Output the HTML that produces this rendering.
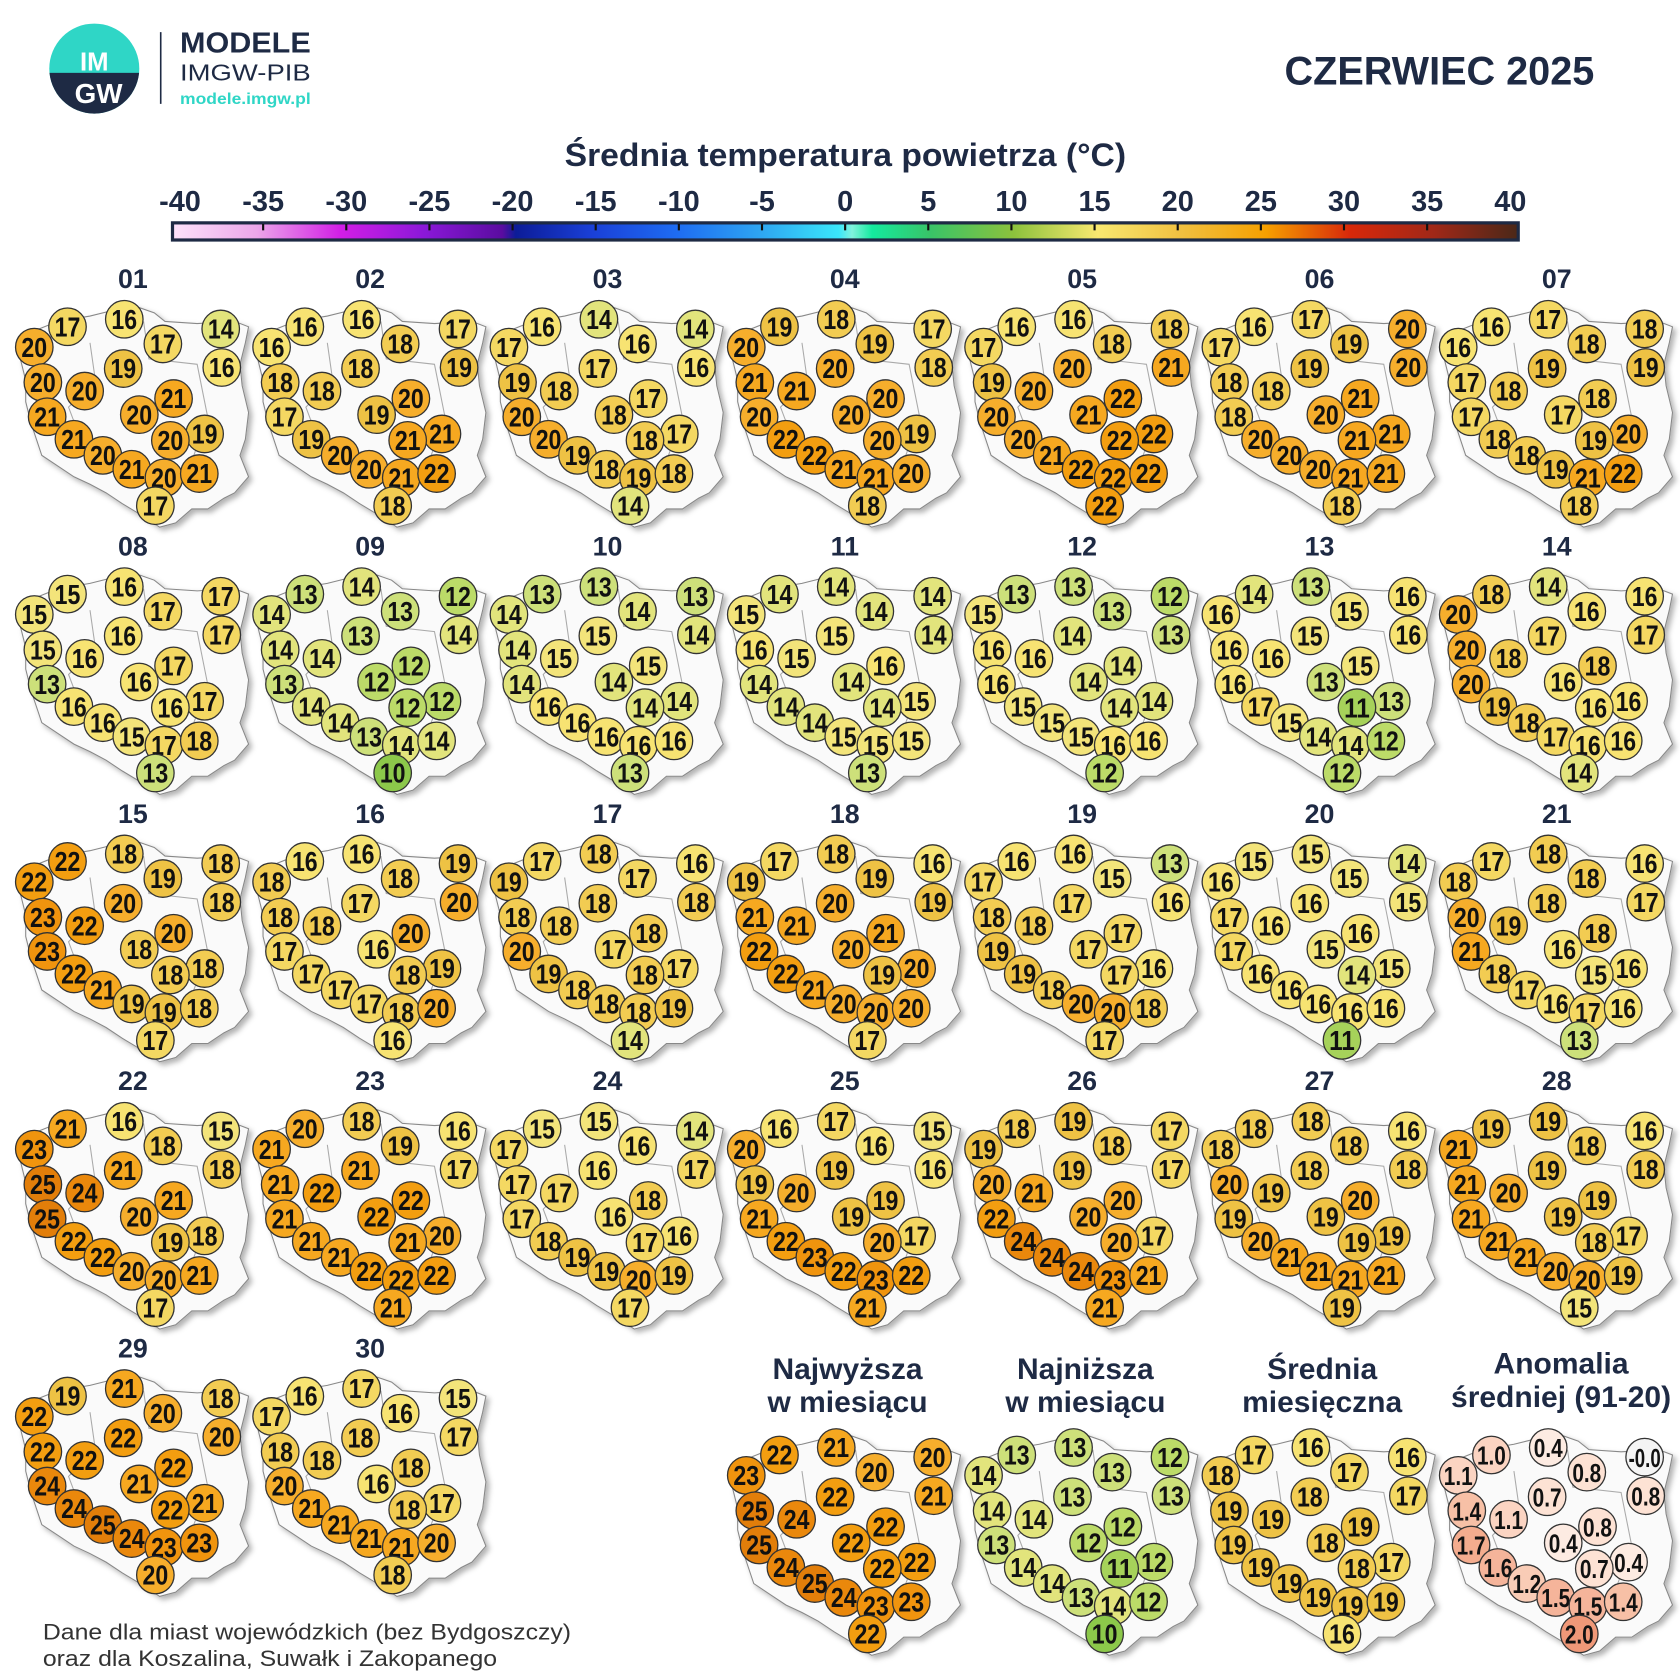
<!DOCTYPE html>
<html><head><meta charset="utf-8"><style>
html,body{margin:0;padding:0;background:#fff;}
svg{display:block;}
text{font-family:"Liberation Sans",sans-serif;}
.n{font-family:"Liberation Sans Narrow","Liberation Sans",sans-serif;font-weight:bold;font-size:26px;fill:#111;text-anchor:middle;}
.pt{font-weight:bold;font-size:25px;fill:#1e2a44;text-anchor:middle;}
.st{font-weight:bold;font-size:28px;fill:#1e2a44;text-anchor:middle;}
</style></head><body>
<svg id="s" width="1680" height="1680" viewBox="0 0 1568 1568" xmlns="http://www.w3.org/2000/svg">
<defs>
<linearGradient id="cb" x1="0" x2="1" y1="0" y2="0">
<stop offset="0" stop-color="#fde2fa"/><stop offset="0.0625" stop-color="#eca6ea"/>
<stop offset="0.125" stop-color="#d21ee6"/><stop offset="0.1875" stop-color="#8a18d8"/>
<stop offset="0.245" stop-color="#5a0ca0"/><stop offset="0.255" stop-color="#0c1c98"/>
<stop offset="0.3125" stop-color="#1a40d8"/><stop offset="0.375" stop-color="#1e6cf2"/>
<stop offset="0.4375" stop-color="#2ea6f2"/><stop offset="0.495" stop-color="#3ae6fa"/>
<stop offset="0.505" stop-color="#80f2dc"/><stop offset="0.52" stop-color="#14ea9e"/>
<stop offset="0.5625" stop-color="#38c468"/><stop offset="0.625" stop-color="#8cc23c"/>
<stop offset="0.6875" stop-color="#f8e870"/><stop offset="0.75" stop-color="#f0c040"/>
<stop offset="0.8125" stop-color="#f6a000"/><stop offset="0.875" stop-color="#d8280a"/>
<stop offset="0.9375" stop-color="#a02818"/><stop offset="1" stop-color="#4a2818"/>
</linearGradient>
<filter id="sh" x="-10%" y="-10%" width="130%" height="130%"><feDropShadow dx="3" dy="3" stdDeviation="2.5" flood-color="#000" flood-opacity="0.3"/></filter>
<clipPath id="lc"><circle cx="88" cy="64" r="42"/></clipPath>
</defs>
<g clip-path="url(#lc)">
<rect x="40" y="20" width="100" height="90" fill="#2fd6c6"/>
<rect x="40" y="68" width="100" height="45" fill="#1e2a44"/>
</g>
<text x="88" y="66" font-size="24" font-weight="bold" fill="#fff" text-anchor="middle">IM</text>
<text x="92" y="96" font-size="26" font-weight="bold" fill="#fff" text-anchor="middle">GW</text>
<line x1="150" y1="30" x2="150" y2="97" stroke="#1e2a44" stroke-width="1.5"/>
<text x="168" y="49" font-size="27" font-weight="bold" fill="#1e2a44" textLength="122" lengthAdjust="spacingAndGlyphs">MODELE</text>
<text x="168" y="75" font-size="22" fill="#1e2a44" textLength="122" lengthAdjust="spacingAndGlyphs">IMGW-PIB</text>
<text x="168" y="97" font-size="15" font-weight="bold" fill="#2fd6c6" textLength="122" lengthAdjust="spacingAndGlyphs">modele.imgw.pl</text>
<text x="1488" y="79" font-size="37" font-weight="bold" fill="#1e2a44" text-anchor="end">CZERWIEC 2025</text>
<text x="527" y="155" font-size="30" font-weight="bold" fill="#1e2a44" textLength="524" lengthAdjust="spacingAndGlyphs">Średnia temperatura powietrza (°C)</text>
<g id="cbl" font-size="27" font-weight="bold" fill="#1e2a44" text-anchor="middle"></g>
<rect x="161" y="208" width="1256" height="16" fill="url(#cb)" stroke="#1e2a44" stroke-width="3"/>
<g id="maps"></g>
<text x="40" y="1530" font-size="21" fill="#333" textLength="493" lengthAdjust="spacingAndGlyphs">Dane dla miast wojewódzkich (bez Bydgoszczy)</text>
<text x="40" y="1555" font-size="21" fill="#333" textLength="424" lengthAdjust="spacingAndGlyphs">oraz dla Koszalina, Suwałk i Zakopanego</text>
<text class="st" x="791" y="1287">Najwyższa</text><text class="st" x="791" y="1318">w miesiącu</text>
<text class="st" x="1013" y="1287">Najniższa</text><text class="st" x="1013" y="1318">w miesiącu</text>
<text class="st" x="1234" y="1287">Średnia</text><text class="st" x="1234" y="1318">miesięczna</text>
<text class="st" x="1457" y="1282">Anomalia</text><text class="st" x="1457" y="1313">średniej (91-20)</text>
</svg>
<script>
var NS="http://www.w3.org/2000/svg";
function el(t,a,p,txt){var e=document.createElementNS(NS,t);for(var k in a)e.setAttribute(k,a[k]);if(txt!==undefined)e.textContent=txt;p.appendChild(e);return e;}
var cbl=document.getElementById('cbl'),svg=document.getElementById('s');
for(var i=0;i<=16;i++){var v=-40+5*i,x=168+i*77.6;el('text',{x:x,y:197},cbl,String(v));
 if(i>0&&i<16)el('line',{x1:x,y1:209,x2:x,y2:215,stroke:'#111','stroke-width':2},svg);}
var P=[[-61,45],[-8,38],[82,47],[-92,64],[28,61],[-9,84],[83,83],[-84,97],[-45,105],[38,112],[-80,129],[6,127],[67,145],[-55,150],[35,151],[-28,165],[-1,178],[29,186],[62,182],[21,212]];
var D=[
"17 16 14 20 17 19 16 20 20 21 21 20 19 21 20 20 21 20 21 17",
"16 16 17 16 18 18 19 18 18 20 17 19 21 19 21 20 20 21 22 18",
"16 14 14 17 16 17 16 19 18 17 20 18 17 20 18 19 18 19 18 14",
"19 18 17 20 19 20 18 21 21 20 20 20 19 22 20 22 21 21 20 18",
"16 16 18 17 18 20 21 19 20 22 20 21 22 20 22 21 22 22 22 22",
"16 17 20 17 19 19 20 18 18 21 18 20 21 20 21 20 20 21 21 18",
"16 17 18 16 18 19 19 17 18 18 17 17 20 18 19 18 19 21 22 18",
"15 16 17 15 17 16 17 15 16 17 13 16 17 16 16 16 15 17 18 13",
"13 14 12 14 13 13 14 14 14 12 13 12 12 14 12 14 13 14 14 10",
"13 13 13 14 14 15 14 14 15 15 14 14 14 16 14 16 16 16 16 13",
"14 14 14 15 14 15 14 16 15 16 14 14 15 14 14 14 15 15 15 13",
"13 13 12 15 13 14 13 16 16 14 16 14 14 15 14 15 15 16 16 12",
"14 13 16 16 15 15 16 16 16 15 16 13 13 17 11 15 14 14 12 12",
"18 14 16 20 16 17 17 20 18 18 20 16 16 19 16 18 17 16 16 14",
"22 18 18 22 19 20 18 23 22 20 23 18 18 22 18 21 19 19 18 17",
"16 16 19 18 18 17 20 18 18 20 17 16 19 17 18 17 17 18 20 16",
"17 18 16 19 17 18 18 18 18 18 20 17 17 19 18 18 18 18 19 14",
"17 18 16 19 19 20 19 21 21 21 22 20 20 22 19 21 20 20 20 17",
"16 16 13 17 15 17 16 18 18 17 19 17 16 19 17 18 20 20 18 17",
"15 15 14 16 15 16 15 17 16 16 17 15 15 16 14 16 16 16 16 11",
"17 18 16 18 18 18 17 20 19 18 21 16 16 18 15 17 16 17 16 13",
"21 16 15 23 18 21 18 25 24 21 25 20 18 22 19 22 20 20 21 17",
"20 18 16 21 19 21 17 21 22 22 21 22 20 21 21 21 22 22 22 21",
"15 15 14 17 16 16 17 17 17 18 17 16 16 18 17 19 19 20 19 17",
"16 17 15 20 16 19 16 19 20 19 21 19 17 22 20 23 22 23 22 21",
"18 19 17 19 18 19 17 20 21 20 22 20 17 24 20 24 24 23 21 21",
"18 18 16 18 18 18 18 20 19 20 19 19 19 20 19 21 21 21 21 19",
"19 19 16 21 18 19 18 21 20 19 21 19 17 21 18 21 20 20 19 15",
"19 21 18 22 20 22 20 22 22 22 24 21 21 24 22 25 24 23 23 20",
"16 17 15 17 16 18 17 18 18 18 20 16 17 21 18 21 21 21 20 18"];
var S=[
"22 21 20 23 20 22 21 25 24 22 25 22 22 24 22 25 24 23 23 22",
"13 13 12 14 13 13 13 14 14 12 13 12 12 14 11 14 13 14 12 10",
"17 16 16 18 17 18 17 19 19 19 19 18 17 19 18 19 19 19 19 16",
"1.0 0.4 -0.0 1.1 0.8 0.7 0.8 1.4 1.1 0.8 1.7 0.4 0.4 1.6 0.7 1.2 1.5 1.5 1.4 2.0"];
var TC={10:'#8cc84a',11:'#a6d25a',12:'#bcdb68',13:'#cde07a',14:'#e2e47c',15:'#f3e47a',16:'#f7e372',17:'#f4d862',18:'#f2cc52',19:'#eec244',20:'#f6ae2c',21:'#f6a820',22:'#f39e10',23:'#f0940e',24:'#ea880c',25:'#e27e0a'};
function ac(v){v=parseFloat(v);if(v<=0.05)return '#f4f4f4';if(v<0.6)return '#fdebe2';if(v<0.9)return '#fde2d4';if(v<1.15)return '#fbd4c2';if(v<1.3)return '#f9ccb6';if(v<1.45)return '#f7c0a6';if(v<1.65)return '#f5b49a';if(v<1.85)return '#f4ac8e';return '#ef9878';}
var OUT=[[-95,50],[-70,40],[-40,35],[-20,30],[0,25],[20,32],[30,40],[60,42],[95,40],[108,45],[105,60],[100,80],[102,100],[108,125],[105,150],[100,165],[108,185],[95,200],[85,205],[70,215],[55,215],[40,228],[25,232],[10,222],[-10,210],[-25,200],[-40,192],[-55,185],[-70,175],[-85,165],[-90,150],[-95,135],[-100,115],[-100,95],[-105,75],[-100,60]];
var maps=document.getElementById('maps');
function drawMap(cx,cy,vals,colf,title){
 var g=el('g',{},maps);
 if(title)el('text',{x:cx,y:cy+9,'class':'pt'},g,title);
 el('polygon',{points:OUT.map(function(p){return (cx+p[0])+','+(cy+p[1]);}).join(' '),fill:'#fafafa',stroke:'#888','stroke-width':1,filter:'url(#sh)'},g);
 el('polyline',{points:[[cx-40,cy+60],[cx-35,cy+95],[cx-60,cy+120],[cx-45,cy+160]].map(function(p){return p.join(',');}).join(' '),fill:'none',stroke:'#aaa','stroke-width':1},g);
 el('polyline',{points:[[cx+10,cy+40],[cx+15,cy+75],[cx+60,cy+80],[cx+70,cy+130],[cx+55,cy+170]].map(function(p){return p.join(',');}).join(' '),fill:'none',stroke:'#aaa','stroke-width':1},g);
 for(var i=0;i<20;i++){var x=cx+P[i][0],y=cy+P[i][1],v=vals[i];
  el('circle',{cx:x,cy:y,r:17.5,fill:colf(v),stroke:'#333','stroke-width':1.2},g);
  var a={x:x,y:y+9,'class':'n',lengthAdjust:'spacingAndGlyphs',textLength:v.length>3?30:(v.length>2?27:24)};
  if(v.length>2)a.style='font-size:24px';
  el('text',a,g,v);}
}
for(var d=0;d<30;d++){var c=d%7,r=Math.floor(d/7);
 drawMap(124+221.5*c,260+249.5*r,D[d].split(' '),function(v){return TC[v];},(d<9?'0':'')+(d+1));}
for(var k=0;k<4;k++){drawMap(124+221.5*(3+k),1313,S[k].split(' '),k<3?function(v){return TC[v];}:ac,null);}
</script>
</body></html>
